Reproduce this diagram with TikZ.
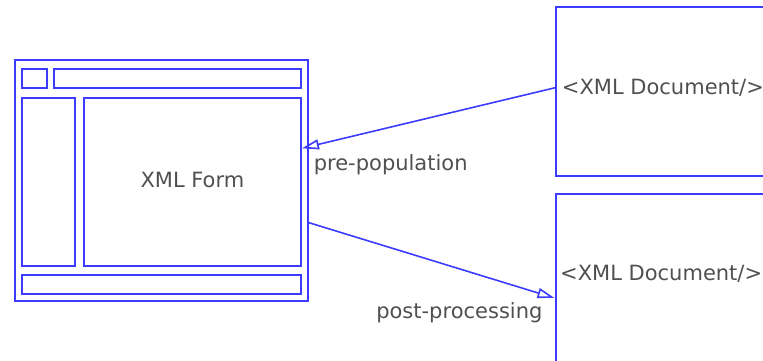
\documentclass[tikz,border=0pt]{standalone}
\usepackage{fontspec}
\setmainfont{DejaVu Sans}
\usepackage{tikz}
\usetikzlibrary{arrows.meta,positioning,calc}
\definecolor{formblue}{RGB}{60,60,255}
\definecolor{textgray}{RGB}{80,80,80}

\begin{document}
\begin{tikzpicture}[
    x=1pt, y=-1pt,
    panel/.style={rectangle, draw=formblue, line width=2pt, inner sep=0pt},
    docbox/.style={rectangle, draw=formblue, line width=2pt, inner sep=0pt, minimum width=244pt, minimum height=169pt},
    lbl/.style={text=textgray, inner sep=0pt, font=\fontsize{21pt}{25pt}\selectfont},
    flow/.style={draw=formblue, line width=1.6pt, -{Triangle[open, length=17pt, width=10pt]}}
]
\clip (0,0) rectangle (763,360);

% The form window and its panels
\node[panel, minimum width=293pt, minimum height=241.5pt] (frame) at (161,180.25) {};
\node[panel, minimum width=25pt, minimum height=19.3pt] (corner) at (34.5,78.35) {};
\node[panel, minimum width=247.2pt, minimum height=19.3pt] (topbar) at (177.4,78.35) {};
\node[panel, minimum width=53.3pt, minimum height=168pt] (sidebar) at (48.65,181.8) {};
\node[panel, minimum width=217.2pt, minimum height=168pt] (main) at (192.4,181.8) {};
\node[panel, minimum width=279pt, minimum height=18.8pt] (bottombar) at (161.5,284.6) {};
\node[lbl, yshift=2pt] (formtxt) at (main.center) {XML Form};

% XML documents on the right
\node[docbox] (docA) at (678.25,91) {};
\node[docbox] (docB) at (677.5,278) {};
\node[lbl, anchor=base west] (docAtxt) at ([xshift=6.5pt, yshift=-3pt]docA.west) {<XML Document/>};
\node[lbl, anchor=base west] (docBtxt) at ([xshift=5.5pt, yshift=-2pt]docB.west) {<XML Document/>};

% Arrows
\draw[flow] ([yshift=3.3pt]docA.west) -- (main.17)
    node[lbl, at end, anchor=base west, xshift=11pt, yshift=-22pt] (pretxt) {pre-population};
\draw[flow] (frame.-16) -- ([yshift=-20pt]docB.west)
    node[lbl, at end, anchor=base east, xshift=-11.3pt, yshift=-20pt] (posttxt) {post-processing};

\end{tikzpicture}
\end{document}
